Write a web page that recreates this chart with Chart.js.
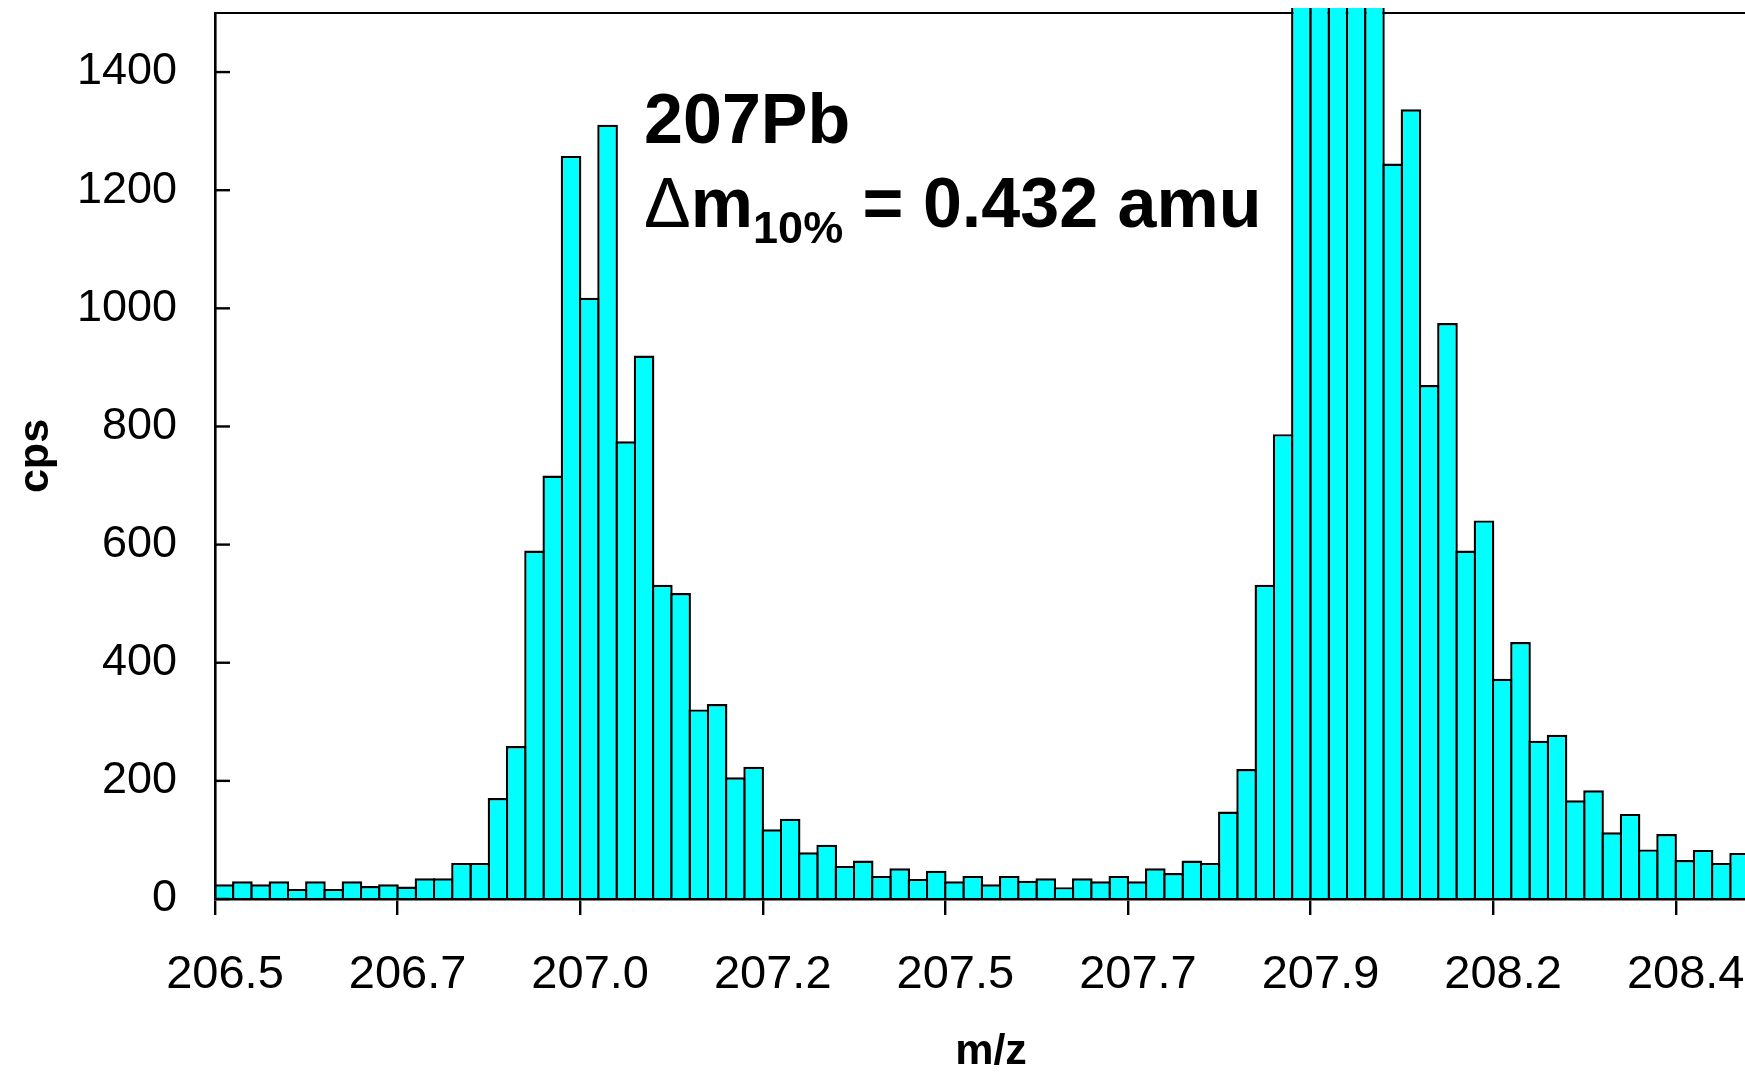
<!DOCTYPE html>
<html>
<head>
<meta charset="utf-8">
<title>207Pb cps vs m/z</title>
<script src="https://cdn.jsdelivr.net/npm/chart.js@4.4.1/dist/chart.umd.min.js"></script>
<style>
  html, body { margin: 0; padding: 0; background: #fff; overflow: hidden; }
  /* the plot runs a little past the right edge of the window, like the original */
  #caja { position: relative; width: 1770px; height: 1074px; }
</style>
</head>
<body>
<div id="caja"><canvas id="grafica"></canvas></div>
<script>
/********** Datos *******************/
// etiquetas del eje m/z, una cada 10 canales
const etiquetasMz = ['206.5', '206.7', '207.0', '207.2', '207.5', '207.7', '207.9', '208.2', '208.4'];
const canalesPorMarca = 10;
const canalesEje = 85;

// cps por canal (los de 208Pb pasan del tope del eje)
const cps = [
  25, 30, 25, 30, 17, 30, 17, 30, 22, 25,
  21, 35, 35, 61, 61, 171, 259, 590, 717, 1258,
  1018, 1311, 775, 920, 532, 518, 321, 330, 206, 224,
  118, 136, 79, 92, 56, 65, 39, 52, 34, 48,
  30, 39, 25, 39, 31, 35, 20, 35, 30, 39,
  30, 52, 44, 65, 61, 148, 220, 532, 787, 1700,
  2600, 3000, 2800, 2200, 1245, 1337, 870, 975, 590, 641,
  373, 435, 268, 278, 167, 184, 113, 144, 84, 110,
  66, 83, 61, 78
];

const marcasCps = [0, 200, 400, 600, 800, 1000, 1200, 1400];
const maxCps = 1500;

// texto del pico: canal donde empieza y cps de cada renglon
const notaCanal = 23.5;
const notaCps = [1280, 1138];

const FUENTE = '"Liberation Sans", Arial, sans-serif';
const BORDE = 2.4;

/********** Marcas hacia adentro en Y y texto del pico *******************/
const extras = {
  id: 'extras',
  afterDatasetsDraw(chart) {
    const {ctx, chartArea, scales: {x, y}} = chart;
    ctx.save();
    ctx.strokeStyle = '#000';
    ctx.lineWidth = 2.4;
    y.ticks.forEach(t => {
      const py = y.getPixelForValue(t.value);
      ctx.beginPath();
      ctx.moveTo(chartArea.left, py);
      ctx.lineTo(chartArea.left + 15, py);
      ctx.stroke();
    });

    ctx.fillStyle = '#000';
    ctx.textBaseline = 'alphabetic';
    ctx.textAlign = 'left';
    const px = x.getPixelForValue(notaCanal);
    const y1 = y.getPixelForValue(notaCps[0]);
    const y2 = y.getPixelForValue(notaCps[1]);

    ctx.font = 'bold 70px ' + FUENTE;
    ctx.fillText('207Pb', px, y1);

    let cx = px;
    ctx.font = '70px ' + FUENTE;
    ctx.fillText('\u0394', cx, y2);
    cx += ctx.measureText('\u0394').width;
    ctx.font = 'bold 70px ' + FUENTE;
    ctx.fillText('m', cx, y2);
    cx += ctx.measureText('m').width;
    ctx.font = 'bold 45px ' + FUENTE;
    ctx.fillText('10%', cx, y2 + 16);
    cx += ctx.measureText('10%').width;
    ctx.font = 'bold 70px ' + FUENTE;
    ctx.fillText(' = 0.432 amu', cx, y2);
    ctx.restore();
  }
};

const sinPadding = (scale) => {
  scale.paddingLeft = 0;
  scale.paddingRight = 0;
  scale.paddingTop = 0;
  scale.paddingBottom = 0;
};

/********** Grafica *******************/
Chart.defaults.color = '#000';
Chart.defaults.font.family = FUENTE;

const ctx = document.getElementById('grafica');
new Chart(ctx, {
  type: 'bar',
  data: {
    datasets: [{
      label: 'cps',
      data: cps.map((v, i) => ({x: i + 0.5, y: v})),
      backgroundColor: '#00FFFF',
      borderColor: '#000',
      borderWidth: BORDE,
      // las barras se enciman un borde para que la linea entre ellas sea una sola
      barPercentage: 1.13,
      categoryPercentage: 1,
      clip: {left: 0, top: 5, right: 0, bottom: 0}
    }]
  },
  options: {
    responsive: true,
    maintainAspectRatio: false,
    devicePixelRatio: 1,
    animation: false,
    layout: {padding: {top: 13, left: 0, right: 3, bottom: 0}},
    plugins: {
      legend: {display: false},
      tooltip: {enabled: false}
    },
    scales: {
      x: {
        type: 'linear',
        position: 'bottom',
        offset: false,
        min: 0,
        max: canalesEje,
        afterBuildTicks: (scale) => {
          scale.ticks = etiquetasMz.map((_, k) => ({value: k * canalesPorMarca}));
        },
        afterFit: (scale) => { scale.height = 175; sinPadding(scale); },
        ticks: {
          callback: (value, index) => etiquetasMz[index],
          font: {size: 47},
          padding: 32,
          labelOffset: 10,
          maxRotation: 0,
          autoSkip: false
        },
        grid: {
          display: true,
          offset: false,
          drawOnChartArea: false,
          drawTicks: true,
          tickLength: 16,
          color: '#000',
          lineWidth: 2.4
        },
        border: {display: true, color: '#000', width: 2.6, z: 1},
        title: {
          display: true,
          text: 'm/z',
          font: {size: 43, weight: 'bold', lineHeight: 1},
          padding: {top: 0, bottom: 0}
        }
      },
      arriba: {
        type: 'linear',
        position: 'top',
        offset: false,
        min: 0,
        max: canalesEje,
        afterFit: (scale) => { scale.height = 0; sinPadding(scale); },
        ticks: {display: false},
        grid: {display: false, drawTicks: false},
        border: {display: true, color: '#000', width: 2}
      },
      y: {
        min: 0,
        max: maxCps,
        afterBuildTicks: (scale) => {
          scale.ticks = marcasCps.map(v => ({value: v}));
        },
        afterFit: (scale) => { scale.width = 215; sinPadding(scale); },
        ticks: {
          callback: (value) => String(value),
          font: {size: 45},
          padding: 38
        },
        grid: {display: false, drawTicks: false},
        border: {display: true, color: '#000', width: 2.6, z: 1},
        title: {
          display: true,
          text: 'cps',
          font: {size: 43, weight: 'bold', lineHeight: 1},
          padding: {top: 15, bottom: 0}
        }
      }
    }
  },
  plugins: [extras]
});
</script>
</body>
</html>
